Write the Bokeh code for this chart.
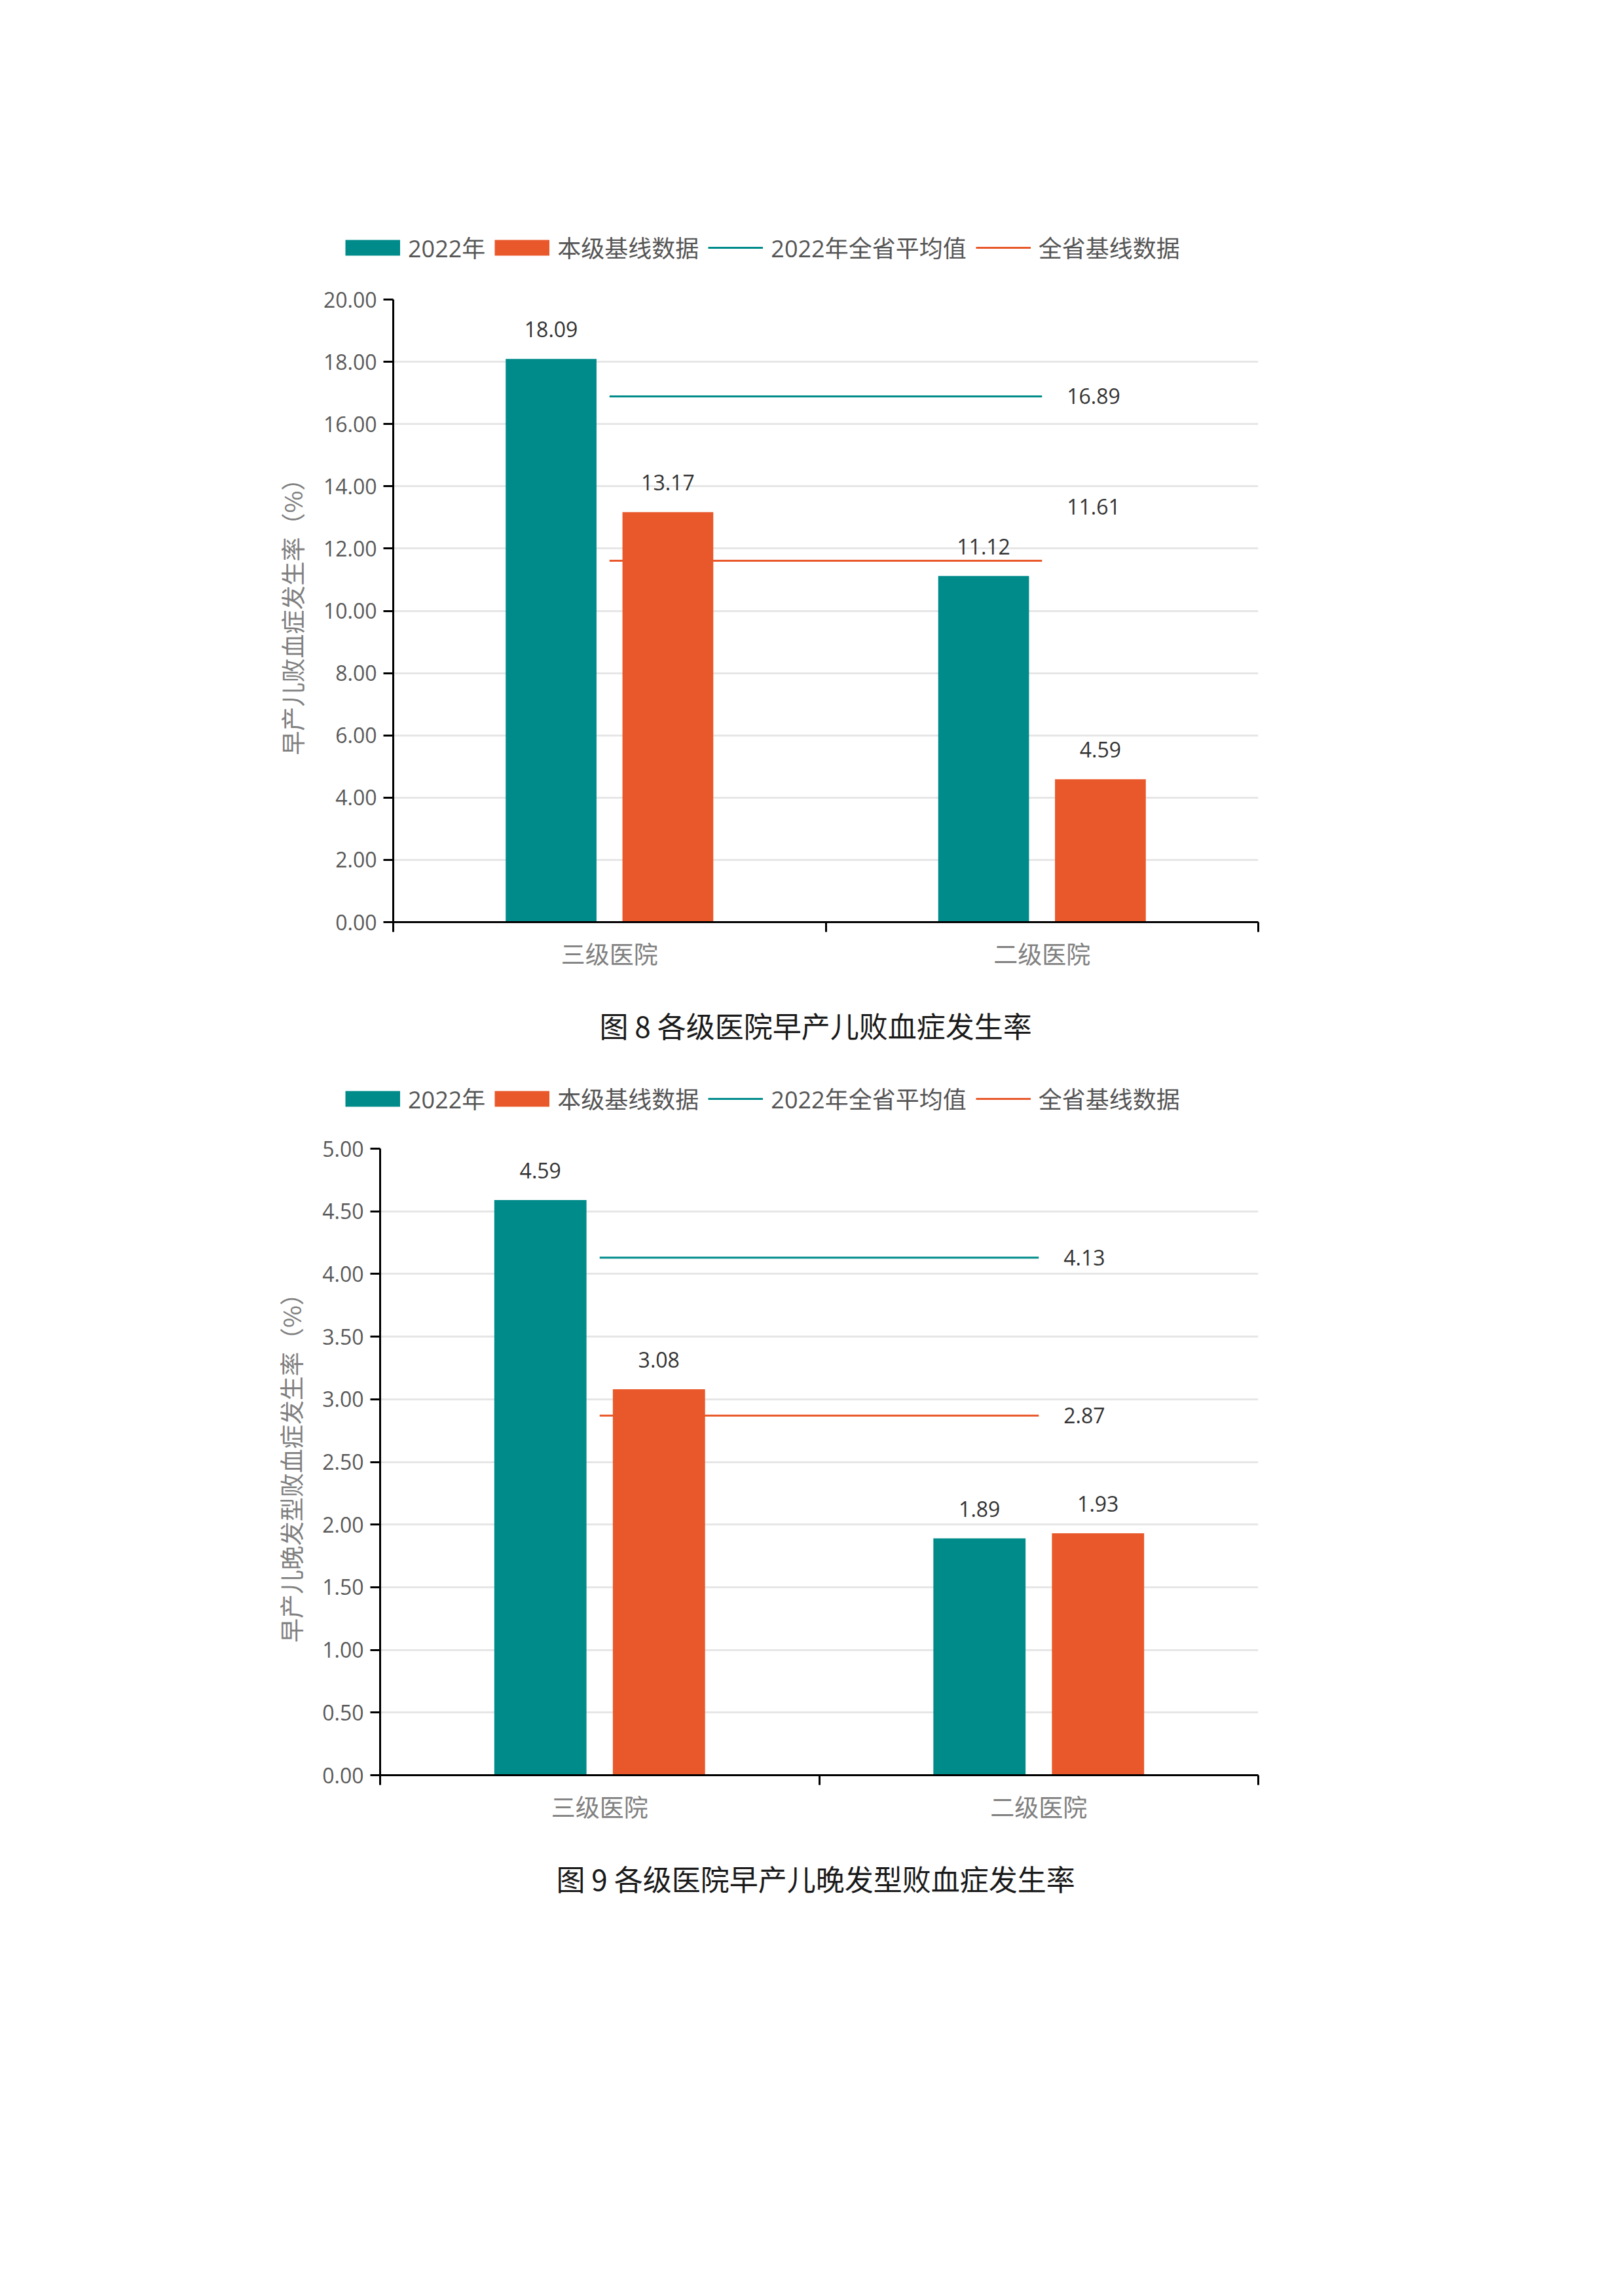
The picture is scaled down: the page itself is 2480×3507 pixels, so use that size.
import numpy as np
from bokeh.plotting import figure
from bokeh.models import (Range1d, FixedTicker, PrintfTickFormatter, Legend,
                          LegendItem, Title, ColumnDataSource)
from bokeh.transform import dodge
from bokeh.embed import file_html
from bokeh.resources import INLINE
from bokeh.core.properties import value

# ---------------- data ----------------
categories = ["三级医院", "二级医院"]
series_names = ["2022年", "本级基线数据", "2022年全省平均值", "全省基线数据"]

fig8_2022 = [18.09, 11.12]
fig8_base = [13.17, 4.59]
fig8_avg_2022 = 16.89
fig8_avg_base = 11.61
fig8_yticks = [0, 2, 4, 6, 8, 10, 12, 14, 16, 18, 20]
fig8_ylabel = "早产儿败血症发生率（%）"
fig8_caption = "图 8 各级医院早产儿败血症发生率"

fig9_2022 = [4.59, 1.89]
fig9_base = [3.08, 1.93]
fig9_avg_2022 = 4.13
fig9_avg_base = 2.87
fig9_yticks = [0, 0.5, 1.0, 1.5, 2.0, 2.5, 3.0, 3.5, 4.0, 4.5, 5.0]
fig9_ylabel = "早产儿晚发型败血症发生率（%）"
fig9_caption = "图 9 各级医院早产儿晚发型败血症发生率"

# ---------------- style ----------------
TEAL = "#008b8b"
ORANGE = "#e9582a"
NUM_FONT = "Open Sans"
CJK_FONT = "Noto Sans CJK SC"
MIX_FONT = "'Open Sans', 'Noto Sans CJK SC'"
FIG_W = 2464
FRAME_RIGHT = 1921
LEGEND_LEFT = 527


def make_legend(height, bottom_gap):
    """A strip holding the chart legend (swatches + labels)."""
    lg = figure(width=FIG_W, height=height, output_backend="svg",
                toolbar_location=None, x_axis_type=None, y_axis_type=None,
                x_range=Range1d(0, FIG_W), y_range=Range1d(0, height),
                min_border=0, outline_line_color=None,
                background_fill_color="white", border_fill_color="white")
    lg.grid.grid_line_color = None
    nan = np.array([np.nan])
    sw_a = lg.line(x=nan, y=nan, line_color=TEAL, line_width=24)
    sw_b = lg.line(x=nan, y=nan, line_color=ORANGE, line_width=24)
    ln_a = lg.line(x=nan, y=nan, line_color=TEAL, line_width=3)
    ln_b = lg.line(x=nan, y=nan, line_color=ORANGE, line_width=3)
    legend = Legend(items=[
        LegendItem(label=series_names[0], renderers=[sw_a]),
        LegendItem(label=series_names[1], renderers=[sw_b]),
        LegendItem(label=series_names[2], renderers=[ln_a]),
        LegendItem(label=series_names[3], renderers=[ln_b]),
    ], location=(LEGEND_LEFT, bottom_gap),
        orientation="horizontal", glyph_width=84, glyph_height=44,
        label_height=44, label_standoff=12, spacing=14, padding=0, margin=0,
        border_line_color=None, background_fill_alpha=0,
        label_text_font=MIX_FONT, label_text_font_size="36px",
        label_text_color="#555555")
    lg.add_layout(legend)
    return lg


def make_chart(v2022, vbase, avg2022, avgbase, yticks, ylabel, caption,
               height, b_left, b_top, b_bottom, base_lbl_lift, caption_left):
    n = len(categories)
    centers = [i + 0.5 for i in range(n)]
    p = figure(width=FIG_W, height=height, output_backend="svg",
               toolbar_location=None,
               x_range=Range1d(0, n), y_range=Range1d(yticks[0], yticks[-1]),
               min_border_left=b_left, min_border_right=FIG_W - FRAME_RIGHT,
               min_border_top=b_top, min_border_bottom=b_bottom,
               outline_line_color=None, background_fill_color="white",
               border_fill_color="white")

    src = ColumnDataSource(dict(
        x=centers, cat=categories, a=v2022, b=vbase,
        a_txt=[f"{v:.2f}" for v in v2022], b_txt=[f"{v:.2f}" for v in vbase]))

    p.vbar(x=dodge("x", -0.135), top="a", width=0.21, source=src,
           fill_color=TEAL, line_color=None)
    p.vbar(x=dodge("x", 0.135), top="b", width=0.21, source=src,
           fill_color=ORANGE, line_color=None)
    for fld, off in (("a", -0.135), ("b", 0.135)):
        p.text(x=dodge("x", off), y=fld, text=fld + "_txt", source=src,
               text_align="center", text_baseline="middle", y_offset=-45,
               text_font=value(NUM_FONT), text_font_size="32px",
               text_color="#333333")

    p.segment(x0=[centers[0]], x1=[centers[-1]], y0=[avg2022], y1=[avg2022],
              line_color=TEAL, line_width=3)
    p.segment(x0=[centers[0]], x1=[centers[-1]], y0=[avgbase], y1=[avgbase],
              line_color=ORANGE, line_width=3)
    p.text(x=[centers[-1]], y=[avg2022], text=[f"{avg2022:.2f}"], x_offset=38,
           text_align="left", text_baseline="middle",
           text_font=value(NUM_FONT), text_font_size="32px", text_color="#333333")
    p.text(x=[centers[-1]], y=[avgbase], text=[f"{avgbase:.2f}"], x_offset=38,
           y_offset=-base_lbl_lift,
           text_align="left", text_baseline="middle",
           text_font=value(NUM_FONT), text_font_size="32px", text_color="#333333")

    # axes
    p.xgrid.grid_line_color = None
    p.ygrid.grid_line_color = "#e6e6e6"
    p.ygrid.grid_line_width = 3
    p.ygrid.ticker = FixedTicker(ticks=yticks)

    ya = p.yaxis[0]
    ya.ticker = FixedTicker(ticks=yticks)
    ya.formatter = PrintfTickFormatter(format="%.2f")
    ya.axis_line_color = "black"
    ya.axis_line_width = 3
    ya.major_tick_line_color = "black"
    ya.major_tick_line_width = 3
    ya.major_tick_out = 15
    ya.major_tick_in = 0
    ya.minor_tick_line_color = None
    ya.major_label_standoff = 10
    ya.major_label_text_font = NUM_FONT
    ya.major_label_text_font_size = "32px"
    ya.major_label_text_color = "#595959"
    ya.axis_label = ylabel
    ya.axis_label_text_font = CJK_FONT
    ya.axis_label_text_font_size = "37px"
    ya.axis_label_text_font_style = "normal"
    ya.axis_label_text_color = "#808080"
    ya.axis_label_standoff = 18

    xa = p.xaxis[0]
    xa.ticker = FixedTicker(ticks=centers, minor_ticks=list(range(n + 1)))
    xa.major_label_overrides = {c: lab for c, lab in zip(centers, categories)}
    xa.axis_line_color = "black"
    xa.axis_line_width = 3
    xa.major_tick_out = 0
    xa.major_tick_in = 0
    xa.minor_tick_line_color = "black"
    xa.minor_tick_line_width = 3
    xa.minor_tick_out = 15
    xa.minor_tick_in = 0
    xa.major_label_standoff = 5
    xa.major_label_text_font = CJK_FONT
    xa.major_label_text_font_size = "37px"
    xa.major_label_text_color = "#808080"

    p.add_layout(Title(text=caption, align="left", standoff=92,
                       offset=caption_left - b_left,
                       text_font=CJK_FONT, text_font_size="44px",
                       text_font_style="normal", text_color="#1a1a1a"), "below")
    return p


# page strips, top to bottom (frame 1: y 457-1408, frame 2: y 1754-2711)
l8 = make_legend(420, 16)
p8 = make_chart(fig8_2022, fig8_base, fig8_avg_2022, fig8_avg_base, fig8_yticks,
                fig8_ylabel, fig8_caption, height=1233, b_left=600, b_top=37,
                b_bottom=245, base_lbl_lift=82, caption_left=915)
l9 = make_legend(70, 19)
p9 = make_chart(fig9_2022, fig9_base, fig9_avg_2022, fig9_avg_base, fig9_yticks,
                fig9_ylabel, fig9_caption, height=1300, b_left=580, b_top=31,
                b_bottom=312, base_lbl_lift=0, caption_left=849)

pages = [l8, p8, l9, p9]
open("out.html", "w").write(file_html(pages, INLINE))
